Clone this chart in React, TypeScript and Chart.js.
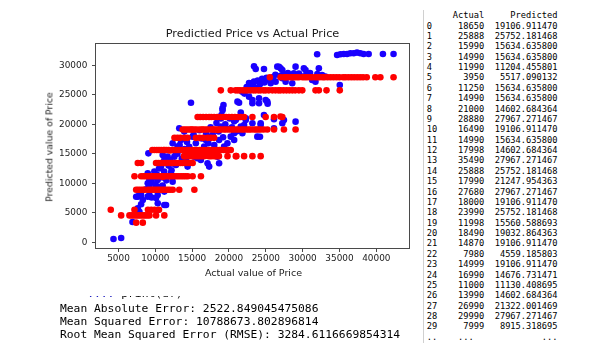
import React, { useEffect, useRef } from "react";
import { Chart, registerables } from "chart.js";

Chart.register(...registerables);

// ---------- axis ----------
const xTickValues = [5000, 10000, 15000, 20000, 25000, 30000, 35000, 40000];
const yTickValues = [0, 5000, 10000, 15000, 20000, 25000, 30000];
const xMin = 1878;
const xMax = 44507;
const yMin = -1051;
const yMax = 33695;

// ---------- red series (decision-tree predictions: discrete levels) ----------
const red27967 = [25550, 27010, 27500, 27680, 27900, 28300, 28600, 28880, 29200, 29500, 29990, 30300, 30600, 30990, 31300, 31700, 31990, 32300, 32700, 32990, 33400, 33800, 34200, 34600, 34990, 35490, 35800, 36200, 36600, 36990, 37400, 37800, 38200, 38700, 39870, 40550, 42340];
const red25752 = [18890, 20240, 20900, 21200, 21500, 21900, 22200, 22500, 22900, 23300, 23600, 23990, 24300, 24700, 24990, 25400, 25888, 26300, 26700, 26990, 27400, 27800, 28200, 28600, 28990, 29490, 29950, 31750, 32200, 33240, 35040];
const red21248 = [15740, 16100, 16500, 16900, 17300, 17600, 17990, 18400, 18800, 19200, 19600, 19990, 20400, 20800, 21200, 21600, 22050, 23180, 24980, 26110, 27240];
const red21322 = [26990];
const red19107 = [13710, 14000, 14300, 14600, 14870, 14999, 15300, 15600, 15990, 16300, 16490, 16800, 17100, 17500, 17800, 18000, 18300, 18650, 18900, 19300, 19600, 19990, 20300, 20600, 20990, 21300, 21700, 22000, 22400, 22700, 22990, 23400, 23700, 23990, 24300, 24700, 25200, 26110, 27460, 29040];
const red19033 = [18490];
const red17700 = [12600, 13000, 13400, 13990, 14380, 15500, 15990, 16490, 17100, 17540, 17990];
const red15635 = [9600, 9900, 10200, 10500, 10800, 11100, 11250, 11500, 11800, 12300, 12600, 12900, 13200, 13500, 13800, 14100, 14400, 14700, 14990, 15300, 15600, 15990, 16300, 16600, 16900, 17200, 17500, 17800, 18100, 18400, 18700, 19000, 19300, 19600, 19900, 20240];
const red15561 = [11998];
const red14603 = [13900, 13990, 14200, 14500, 14800, 15100, 15400, 15700, 16000, 16300, 16600, 17300, 17600, 17998, 18300, 18630, 19800, 20930, 21000, 22050, 23180, 24300];
const red14677 = [16990];
const red13447 = [7620, 8070, 10100, 10400, 10700, 11000, 11300, 11600, 11900, 12200, 12500, 12800, 13100, 13400, 13700, 14000, 14300, 14600, 15070];
const red11204 = [7170, 8070, 8400, 8700, 9000, 9300, 9600, 9900, 10200, 10500, 10800, 11250, 11500, 11800, 11990, 12300, 12600, 12900, 13200, 13500, 13800, 14100, 14400, 15060, 16190];
const red11130 = [11000];
const red8915 = [7400, 7700, 7999, 8300, 8520, 8980, 9300, 9600, 9900, 10200, 10500, 10800, 11100, 11400, 11700, 12000, 12360, 13250, 15300];
const red5517 = [3950, 7170, 9000, 9450, 9900, 10500];
const red4559 = [5360, 6490, 6800, 7100, 7400, 7700, 7980, 8300, 8600, 8900, 9200, 10100, 11220];
const red3333 = [7400, 8300];

const redLevels: [number, number[]][] = [
  [27967.271467, red27967], [25752.181468, red25752], [21247.954363, red21248], [21322.001469, red21322],
  [19106.91147, red19107], [19032.864363, red19033], [17700, red17700], [15634.6358, red15635],
  [15560.588693, red15561], [14602.684364, red14603], [14676.731471, red14677], [13447, red13447],
  [11204.455801, red11204], [11130.408695, red11130], [8915.318695, red8915], [5517.090132, red5517],
  [4559.185803, red4559], [3333, red3333],
];

// ---------- blue series: [actual, predicted] ----------
const blueLow: [number, number][] = [
  [4320, 565], [5360, 735], [6900, 3440], [7620, 4915], [7620, 5760], [7840, 5190], [8070, 6450], [8300, 7170],
  [7400, 7730], [7620, 7740], [7840, 8020], [8070, 8020], [8970, 7740], [9200, 8020], [9500, 7600], [10100, 7500],
  [10330, 6610], [10330, 5470], [11220, 6330], [11450, 6320], [10320, 8020], [11220, 8590], [8750, 9000], [8970, 10000],
  [9190, 10570], [9200, 9500], [9500, 10200], [10000, 9800], [10320, 9440], [10320, 10570], [10600, 9150], [11000, 9600],
  [8970, 11700], [9870, 11980], [9800, 11000], [10200, 11500], [10770, 12830], [10500, 12500], [11000, 11000], [11200, 12000],
  [11500, 10500], [11800, 13000], [11220, 13960], [11670, 14520], [12120, 11700], [12350, 10280], [9060, 15080], [10500, 13400],
  [11000, 14800], [12000, 14000], [12200, 12200], [12580, 14520], [12800, 13100], [12500, 13300],
];
const blueMid: [number, number][] = [
  [12350, 16780], [12800, 15000], [13030, 16220], [13480, 17350], [13250, 19320], [13930, 18760], [13700, 15650], [14150, 13960],
  [14380, 12830], [13000, 15000], [13300, 16500], [13600, 14200], [14000, 15800], [14300, 17000], [14600, 16200], [14900, 15200],
  [15060, 17910], [15280, 14520], [15730, 14240], [16180, 13960], [15200, 18200], [15500, 16800], [15800, 15500], [16000, 19000],
  [16300, 17600], [16630, 16220], [16860, 17350], [17090, 13390], [17310, 12830], [16600, 15800], [16900, 18500], [17200, 16800],
  [17540, 17910], [17500, 19500], [17800, 18200], [17990, 15090], [18000, 16500], [18440, 14520], [18660, 13390], [18660, 17350],
  [18300, 20200], [18600, 18800], [18890, 19610], [18900, 21000], [18980, 21580], [19120, 22710], [19250, 23280], [19130, 22400],
  [19200, 17800], [19340, 16220], [19500, 20000], [19790, 16780], [19800, 19200], [20100, 21000], [20240, 17910], [20400, 19500],
  [20700, 18480], [20700, 17350], [20700, 20500], [20920, 20740], [21000, 18800], [21370, 19040], [21300, 21200], [21600, 19610],
  [21820, 18480], [21600, 22000], [22050, 19890], [22000, 19500], [22270, 20740], [22300, 21000], [14840, 23660],
];
const blueHigh: [number, number][] = [
  [21150, 23840], [21370, 23660], [22720, 24690], [23180, 23560], [23180, 24100], [24080, 24410], [24080, 23560], [24980, 24100],
  [25200, 23840], [25250, 23500], [23850, 17910], [24210, 17900], [24300, 19890], [23180, 20170], [24300, 20170], [24750, 21580],
  [26110, 20850], [26110, 19320], [27240, 20170], [27460, 20740], [29040, 20450], [22500, 26100], [22950, 26670], [23400, 27230],
  [22720, 27000], [23180, 27000], [21800, 25500], [22100, 25200], [22400, 26300], [23000, 25800], [23300, 27000], [23600, 26200],
  [23900, 27400], [24200, 26800], [24530, 27520], [24500, 27700], [24800, 27100], [25100, 27900], [25430, 27520], [25660, 26950],
  [25700, 27600], [26000, 28000], [26330, 27230], [26300, 28400], [27000, 28200], [27230, 27800], [27500, 28500], [27690, 27230],
  [27910, 28360], [28000, 28700], [28590, 26950], [28500, 28300], [28810, 28640], [29500, 28600], [29940, 28080], [30500, 28400],
  [30840, 28360], [31000, 28700], [31290, 27520], [31500, 27800], [31740, 27230], [32000, 28500], [32640, 28360], [33090, 28080],
  [35040, 26670], [23630, 29380], [23400, 29830], [24750, 29380], [26560, 29770], [26790, 29760], [27010, 29490], [27240, 29190],
  [29040, 29770], [30170, 29490], [30390, 29190], [32200, 29490],
];
const blueTop: [number, number][] = [
  [31970, 31870], [34680, 31750], [35130, 31870], [35580, 31920], [36030, 31920], [36480, 32040], [36930, 32040],
  [37380, 32150], [37830, 32040], [38280, 31920], [38960, 31920], [40900, 31920], [42340, 31920],
];

// ---------- printed table ----------
const tableActual = [18650, 25888, 15990, 14990, 11990, 3950, 11250, 14990, 21000, 28880, 16490, 14990, 17998, 35490, 25888, 17990, 27680, 18000, 23990, 11998, 18490, 14870, 7980, 14999, 16990, 11000, 13990, 26990, 29990, 7999];
const tablePredicted = [19106.91147, 25752.181468, 15634.6358, 15634.6358, 11204.455801, 5517.090132, 15634.6358, 15634.6358, 14602.684364, 27967.271467, 19106.91147, 15634.6358, 14602.684364, 27967.271467, 25752.181468, 21247.954363, 27967.271467, 19106.91147, 25752.181468, 15560.588693, 19032.864363, 19106.91147, 4559.185803, 19106.91147, 14676.731471, 11130.408695, 14602.684364, 21322.001469, 27967.271467, 8915.318695];

// ---------- printed metrics ----------
const metricLines = [
  "Mean Absolute Error: 2522.849045475086",
  "Mean Squared Error: 10788673.802896814",
  "Root Mean Squared Error (RMSE): 3284.6116669854314",
];

const TICK_FONT = { family: "'DejaVu Sans'", size: 8.9 };

function ScatterChart() {
  const ref = useRef<HTMLCanvasElement>(null);
  useEffect(() => {
    const redData = redLevels.flatMap(([lvl, xs]) => xs.map((x) => ({ x, y: lvl })));
    const blueData = [...blueLow, ...blueMid, ...blueHigh, ...blueTop].map(([x, y]) => ({ x, y }));
    const frame = {
      id: "frame",
      afterDatasetsDraw(chart: any) {
        const { ctx, chartArea: a } = chart;
        ctx.save();
        ctx.strokeStyle = "#4a4a4a";
        ctx.lineWidth = 1;
        ctx.strokeRect(a.left, a.top, a.right - a.left, a.bottom - a.top);
        ctx.restore();
      },
    };
    const grid = {
      display: true,
      drawOnChartArea: false,
      drawTicks: true,
      tickLength: 3.5,
      tickColor: "#4a4a4a",
      lineWidth: 1,
    };
    const chart = new Chart(ref.current!, {
      type: "scatter",
      data: {
        datasets: [
          { label: "Decision tree", data: redData, backgroundColor: "#ff0000", pointRadius: 3.3, borderWidth: 0, order: 0 },
          { label: "Other model", data: blueData, backgroundColor: "#1a00ff", pointRadius: 3.3, borderWidth: 0, order: 1 },
        ],
      },
      options: {
        animation: false,
        responsive: false,
        events: [],
        layout: { padding: { left: 0, top: 43.5, right: 10.5, bottom: 0 } },
        plugins: { legend: { display: false }, title: { display: false }, tooltip: { enabled: false } },
        scales: {
          x: {
            type: "linear",
            min: xMin,
            max: xMax,
            afterFit: (s: any) => { s.height = 41.5; },
            afterBuildTicks: (s: any) => { s.ticks = xTickValues.map((v) => ({ value: v })); },
            grid,
            border: { display: false },
            ticks: { font: TICK_FONT, color: "#222", padding: 1, maxRotation: 0, autoSkip: false, callback: (v: any) => String(v) },
          },
          y: {
            type: "linear",
            min: yMin,
            max: yMax,
            afterFit: (s: any) => { s.width = 95.5; },
            afterBuildTicks: (s: any) => { s.ticks = yTickValues.map((v) => ({ value: v })); },
            grid,
            border: { display: false },
            ticks: { font: TICK_FONT, color: "#222", padding: 4.7, autoSkip: false, callback: (v: any) => String(v) },
          },
        },
      },
      plugins: [frame],
    } as any);
    return () => chart.destroy();
  }, []);
  return <canvas ref={ref} width={420} height={290} style={{ position: "absolute", left: 0, top: 0, width: 420, height: 290 }} />;
}

export default function App() {
  const label = { position: "absolute" as const, whiteSpace: "nowrap" as const, color: "#1a1a1a", fontFamily: "'DejaVu Sans'", lineHeight: 1.2 };
  const mono = "'DejaVu Sans Mono'";
  const header = "  " + "Actual".padStart(9) + "  " + "Predicted".padStart(12);
  const rows = tableActual.map((a, i) => String(i).padEnd(2) + String(a).padStart(9) + "  " + tablePredicted[i].toFixed(6).padStart(12));
  const tableText = [header, ...rows, "..    ...             ..."].join("\n");
  return (
    <div style={{ position: "fixed", left: 0, top: 0, width: 614, height: 363, background: "#fff", overflow: "hidden" }}>
      <ScatterChart />
      <div style={{ ...label, left: 252.5, top: 34, fontSize: 11.3, transform: "translate(-50%,-50%)" }}>Predictied Price vs Actual Price</div>
      <div style={{ ...label, left: 253.5, top: 273, fontSize: 9.5, transform: "translate(-50%,-50%)" }}>Actual value of Price</div>
      <div style={{ ...label, left: 49, top: 147, fontSize: 9.3, transform: "translate(-50%,-50%) rotate(-90deg)" }}>Predicted value of Price</div>

      <div style={{ position: "absolute", left: 0, top: 295.5, width: 420, height: 4, overflow: "hidden" }}>
        <pre style={{ margin: 0, position: "absolute", left: 60, top: -9, font: `11.3px ${mono}`, lineHeight: "13px", color: "#000" }}>
          <span style={{ color: "#2020c0" }}>{"    ...:"}</span>{" print(df)"}
        </pre>
      </div>
      <pre style={{ margin: 0, position: "absolute", left: 60, top: 301.8, font: `11.3px ${mono}`, lineHeight: "13px", color: "#000" }}>
        {metricLines.join("\n")}
      </pre>

      <div style={{ position: "absolute", left: 423, top: 10, width: 1, height: 333, background: "#d0d0d0" }} />
      <div style={{ position: "absolute", left: 424, top: 0, width: 190, height: 343, overflow: "hidden" }}>
        <pre style={{ margin: 0, position: "absolute", left: 2.7, top: 10.2, font: `8.7px ${mono}`, lineHeight: "10.38px", color: "#000" }}>
          {tableText}
        </pre>
      </div>
    </div>
  );
}
